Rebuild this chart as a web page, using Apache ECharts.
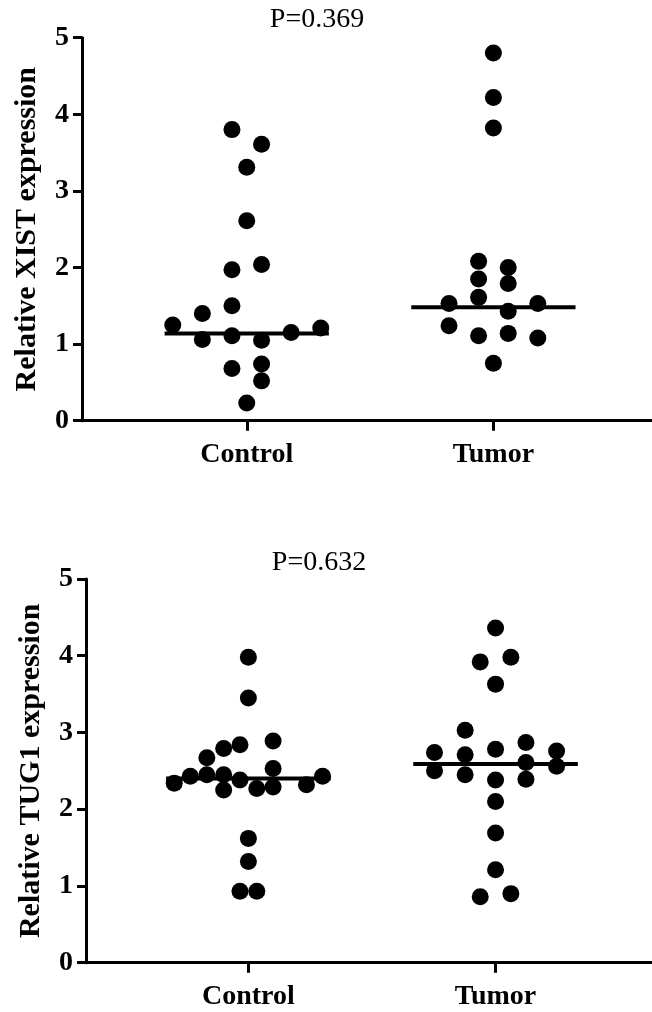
<!DOCTYPE html>
<html>
<head>
<meta charset="utf-8">
<script src="https://cdn.jsdelivr.net/npm/echarts@6/dist/echarts.min.js"></script>
<style>
html,body{margin:0;padding:0;background:#fff;}
#chart{width:652px;height:1012px;}
</style>
</head>
<body>
<div id="chart"></div>
<script>
// ---- data ----
const categories = ['Control', 'Tumor'];
const yTickValues = [0, 1, 2, 3, 4, 5];

// Panel 1: XIST
const xistTitle = 'P=0.369';
const xistYName = 'Relative XIST expression';
const xistControl = [3.80, 3.61, 3.31, 2.61, 1.97, 2.04, 1.25, 1.40, 1.50, 1.06, 1.11, 1.05, 1.15, 1.21, 0.68, 0.74, 0.52, 0.23];
const xistControlJitter = [-0.06, 0.06, 0, 0, -0.06, 0.06, -0.30, -0.18, -0.06, -0.18, -0.06, 0.06, 0.18, 0.30, -0.06, 0.06, 0.06, 0];
const xistTumor = [4.80, 4.22, 3.82, 2.08, 2.00, 1.85, 1.79, 1.53, 1.61, 1.43, 1.53, 1.24, 1.11, 1.14, 1.08, 0.75];
const xistTumorJitter = [0, 0, 0, -0.06, 0.06, -0.06, 0.06, -0.18, -0.06, 0.06, 0.18, -0.18, -0.06, 0.06, 0.18, 0];
const xistMedians = [1.14, 1.48];

// Panel 2: TUG1
const tugTitle = 'P=0.632';
const tugYName = 'Relative TUG1 expression';
const tugControl = [3.98, 3.45, 2.67, 2.79, 2.84, 2.89, 2.34, 2.43, 2.45, 2.45, 2.25, 2.38, 2.27, 2.53, 2.29, 2.32, 2.43, 1.62, 1.32, 0.93, 0.93];
const tugControlJitter = [0, 0, -0.168, -0.10, -0.034, 0.10, -0.30, -0.235, -0.168, -0.10, -0.10, -0.034, 0.034, 0.10, 0.10, 0.235, 0.30, 0, 0, -0.034, 0.034];
const tugTumor = [4.36, 3.92, 3.98, 3.63, 3.03, 2.74, 2.50, 2.71, 2.45, 2.78, 2.38, 2.10, 1.69, 1.21, 2.87, 2.61, 2.39, 2.76, 2.56, 0.86, 0.90];
const tugTumorJitter = [0, -0.062, 0.062, 0, -0.123, -0.247, -0.247, -0.123, -0.123, 0, 0, 0, 0, 0, 0.123, 0.123, 0.123, 0.247, 0.247, -0.062, 0.062];
const tugMedians = [2.40, 2.59];

// ---- chart ----
const FONT = '"Liberation Serif", "Times New Roman", serif';
const MEDIAN_HALF = 0.333;

function pts(catIdx, vals, jit) {
  return vals.map((v, i) => [catIdx + 1 + jit[i], v]);
}
function medianLine(catIdx, m) {
  return [[catIdx + 1 - MEDIAN_HALF, m], [catIdx + 1 + MEDIAN_HALF, m]];
}

function xAxisCfg(gi, min, max) {
  return {
    gridIndex: gi, type: 'value', min: min, max: max,
    splitLine: { show: false },
    axisLine: { show: true, onZero: false, lineStyle: { color: '#000', width: 3 } },
    axisTick: { show: true, customValues: [1, 2], length: 10, lineStyle: { color: '#000', width: 3 } },
    axisLabel: {
      show: true, customValues: [1, 2], margin: 20,
      formatter: v => categories[Math.round(v) - 1] || '',
      fontFamily: FONT, fontWeight: 'bold', fontSize: 28, color: '#000'
    }
  };
}
function yAxisCfg(gi, name) {
  return {
    gridIndex: gi, type: 'value', min: yTickValues[0], max: yTickValues[yTickValues.length - 1], interval: 1,
    name: name, nameLocation: 'middle', nameGap: 40,
    nameTextStyle: { fontFamily: FONT, fontWeight: 'bold', fontSize: 30, color: '#000' },
    splitLine: { show: false },
    axisLine: { show: true, lineStyle: { color: '#000', width: 3 } },
    axisTick: { show: true, length: 9, lineStyle: { color: '#000', width: 3 } },
    axisLabel: { margin: 13, fontFamily: FONT, fontWeight: 'bold', fontSize: 28, color: '#000' }
  };
}

function scatterS(idx, data) {
  return { type: 'scatter', xAxisIndex: idx, yAxisIndex: idx, data: data, symbol: 'circle', symbolSize: 17,
    itemStyle: { color: '#000', opacity: 1 }, silent: true, z: 3 };
}
function lineS(idx, data) {
  return { type: 'line', xAxisIndex: idx, yAxisIndex: idx, data: data, symbol: 'none',
    lineStyle: { color: '#000', width: 4 }, silent: true, z: 4, animation: false };
}

const chart = echarts.init(document.getElementById('chart'), null, { renderer: 'canvas' });
chart.setOption({
  animation: false,
  backgroundColor: '#fff',
  title: [
    { text: xistTitle, left: 317, top: 6, textAlign: 'center', padding: 0,
      textStyle: { fontFamily: FONT, fontWeight: 'normal', fontSize: 28, color: '#000' } },
    { text: tugTitle, left: 319, top: 549, textAlign: 'center', padding: 0,
      textStyle: { fontFamily: FONT, fontWeight: 'normal', fontSize: 28, color: '#000' } }
  ],
  grid: [
    { left: 82, top: 37.7, right: 0, height: 383 },
    { left: 86, top: 579, right: 0, height: 383.7 }
  ],
  xAxis: [xAxisCfg(0, 0.332, 2.643), xAxisCfg(1, 0.343, 2.633)],
  yAxis: [yAxisCfg(0, xistYName), yAxisCfg(1, tugYName)],
  series: [
    scatterS(0, pts(0, xistControl, xistControlJitter)),
    scatterS(0, pts(1, xistTumor, xistTumorJitter)),
    lineS(0, medianLine(0, xistMedians[0])),
    lineS(0, medianLine(1, xistMedians[1])),
    scatterS(1, pts(0, tugControl, tugControlJitter)),
    scatterS(1, pts(1, tugTumor, tugTumorJitter)),
    lineS(1, medianLine(0, tugMedians[0])),
    lineS(1, medianLine(1, tugMedians[1]))
  ]
});
</script>
</body>
</html>
